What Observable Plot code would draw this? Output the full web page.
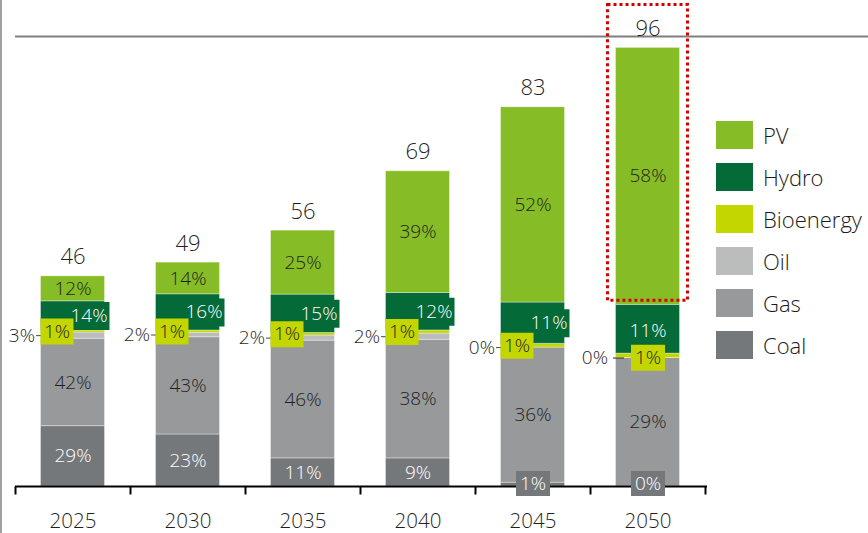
<!DOCTYPE html>
<html>
<head>
<meta charset="utf-8">
<script src="https://cdn.jsdelivr.net/npm/d3@7"></script>
<script src="https://cdn.jsdelivr.net/npm/@observablehq/plot@0.6"></script>
<style>
  html, body { margin: 0; padding: 0; background: #fff; }
  #wrap { position: relative; width: 868px; height: 533px; overflow: hidden; font-family: "Open Sans", sans-serif; }
  #edge { position: absolute; left: 0; top: 0; width: 2px; height: 533px; background: #a0a0a0; }
  #legend { position: absolute; left: 716px; top: 121px; }
  .item { display: flex; align-items: center; height: 28px; margin-bottom: 14px; }
  .sw { width: 37px; height: 28px; margin-right: 10px; flex: none; }
  .lab { font-size: 22px; color: #1a1a1a; white-space: nowrap; }
</style>
</head>
<body>
<div id="wrap"><div id="edge"></div><div id="legend"></div></div>
<script>
// ---- data ----
const years = ["2025", "2030", "2035", "2040", "2045", "2050"];
const totals = [46, 49, 56, 69, 83, 96];
const sources = ["Coal", "Gas", "Oil", "Bioenergy", "Hydro", "PV"];
const coal = [29, 23, 11, 9, 1, 0];
const gas = [42, 43, 46, 38, 36, 29];
const oil = [3, 2, 2, 2, 0, 0];
const bioenergy = [1, 1, 1, 1, 1, 1];
const hydro = [14, 16, 15, 12, 11, 11];
const pv = [12, 14, 25, 39, 52, 58];
const colors = ["#75787b", "#97999b", "#bbbcbc", "#c4d600", "#046a38", "#86bc25"];
const legendOrder = ["PV", "Hydro", "Bioenergy", "Oil", "Gas", "Coal"];
const highlightYear = "2050";

// ---- build stacked rows (shares scaled to each year's total) ----
const shares = [coal, gas, oil, bioenergy, hydro, pv];
const rows = [];
years.forEach((year, i) => {
  const sum = d3.sum(shares, s => s[i]);
  let acc = 0;
  sources.forEach((src, k) => {
    const v = totals[i] * shares[k][i] / sum;
    rows.push({year, source: src, pct: shares[k][i], y1: acc, y2: acc + v, mid: acc + v / 2, total: totals[i]});
    acc += v;
  });
});
const totalRows = years.map((year, i) => ({year, total: totals[i]}));
const bySrc = src => rows.filter(r => r.source === src);
const hi = r => r.year === highlightYear;
const lo = r => r.year !== highlightYear;

// custom symbols (pixel-sized shapes anchored at a data point)
const box = (w, h) => ({draw(ctx) { ctx.rect(-w / 2, -h / 2, w, h); }});
const hline = (a, b) => ({draw(ctx) { ctx.moveTo(a, 0); ctx.lineTo(b, 0); }});
const vline = (a, b) => ({draw(ctx) { ctx.moveTo(0, a); ctx.lineTo(0, b); }});

const yMax = 98.5;
const band = (868 - 15 - 163) / years.length;
const barInset = 25.5;
const ink = "#1f1f1f";
const fs = 19;
const fw = 300;

const chart = Plot.plot({
  width: 868,
  height: 533,
  marginLeft: 15,
  marginRight: 163,
  marginTop: 36,
  marginBottom: 47,
  style: {fontFamily: "'Open Sans', sans-serif", fontSize: "19px", background: "transparent"},
  x: {type: "band", domain: years, padding: 0, axis: null},
  y: {domain: [0, yMax], axis: null},
  color: {domain: sources, range: colors},
  marks: [
    Plot.ruleY([yMax], {stroke: "#7f7f7f", strokeWidth: 2, insetRight: -163}),
    Plot.barY(rows, {x: "year", y1: "y1", y2: "y2", fill: "source", insetLeft: barInset, insetRight: barInset, stroke: "#ffffff", strokeOpacity: 0.35, strokeWidth: 1}),
    // baseline, ticks, year labels
    Plot.ruleY([0], {stroke: "#000", strokeWidth: 2, insetRight: -2}),
    Plot.dot(years, {x: d => d, y: () => 0, symbol: vline(0, 8), stroke: "#000", strokeWidth: 2, fill: "none", dx: -band / 2}),
    Plot.dot(years.slice(-1), {x: d => d, y: () => 0, symbol: vline(0, 8), stroke: "#000", strokeWidth: 2, fill: "none", dx: band / 2}),
    Plot.text(years, {x: d => d, y: () => 0, text: d => d, fill: ink, fontSize: 20.5, fontWeight: fw, dy: 35}),
    // PV labels
    Plot.text(bySrc("PV"), {x: "year", y: "mid", text: d => d.pct + "%", fill: ink, fontSize: fs, fontWeight: fw}),
    // Hydro labels
    Plot.dot(bySrc("Hydro").filter(lo), {x: "year", y: "mid", symbol: box(41, 28), fill: colors[4], stroke: "none", dx: 16}),
    Plot.text(bySrc("Hydro").filter(lo), {x: "year", y: "mid", text: d => d.pct + "%", fill: "#fff", fontSize: fs, fontWeight: fw, dx: 16}),
    Plot.text(bySrc("Hydro").filter(hi), {x: "year", y: "mid", text: d => d.pct + "%", fill: "#fff", fontSize: fs, fontWeight: fw, dy: 2}),
    // Oil labels with leader
    Plot.dot(bySrc("Oil").filter(lo), {x: "year", y: "mid", symbol: hline(-37, -32), stroke: "#444", strokeWidth: 1, fill: "none"}),
    Plot.dot(bySrc("Oil").filter(hi), {x: "year", y: "mid", symbol: hline(-35, -24), stroke: "#444", strokeWidth: 1.2, fill: "none"}),
    Plot.text(bySrc("Oil").filter(lo), {x: "year", y: "mid", text: d => d.pct + "%", fill: ink, fontSize: fs, fontWeight: fw, textAnchor: "end", dx: -38}),
    Plot.text(bySrc("Oil").filter(hi), {x: "year", y: "mid", text: d => d.pct + "%", fill: ink, fontSize: fs, fontWeight: fw, textAnchor: "end", dx: -40}),
    // Bioenergy labels
    Plot.dot(bySrc("Bioenergy").filter(lo), {x: "year", y: "mid", symbol: box(33, 26), fill: colors[3], stroke: "none", dx: -16}),
    Plot.text(bySrc("Bioenergy").filter(lo), {x: "year", y: "mid", text: d => d.pct + "%", fill: ink, fontSize: fs, fontWeight: fw, dx: -16}),
    Plot.dot(bySrc("Bioenergy").filter(hi), {x: "year", y: "mid", symbol: box(34, 26), fill: colors[3], stroke: "none", dy: 2}),
    Plot.text(bySrc("Bioenergy").filter(hi), {x: "year", y: "mid", text: d => d.pct + "%", fill: ink, fontSize: fs, fontWeight: fw, dy: 2}),
    // Gas labels
    Plot.text(bySrc("Gas"), {x: "year", y: "mid", text: d => d.pct + "%", fill: ink, fontSize: fs, fontWeight: fw}),
    // Coal labels
    Plot.text(bySrc("Coal").filter(d => d.pct >= 5), {x: "year", y: "mid", text: d => d.pct + "%", fill: "#fff", fontSize: fs, fontWeight: fw}),
    Plot.dot(bySrc("Coal").filter(d => d.pct < 5), {x: "year", y: () => 0, symbol: box(34, 25), fill: colors[0], stroke: "none", dy: -3}),
    Plot.text(bySrc("Coal").filter(d => d.pct < 5), {x: "year", y: () => 0, text: d => d.pct + "%", fill: "#fff", fontSize: fs, fontWeight: fw, dy: -3}),
    // totals
    Plot.text(totalRows, {x: "year", y: "total", text: d => String(d.total), fill: ink, fontSize: 22, fontWeight: fw, dy: -19}),
    // highlight box
    Plot.barY(bySrc("PV").filter(hi), {x: "year", y1: "y1", y2: "y2", fill: "none", stroke: "#d40000", strokeWidth: 3, strokeDasharray: "3 3", insetLeft: barInset - 8, insetRight: barInset - 8, insetTop: -43, insetBottom: 4})
  ]
});
chart.style.position = "absolute";
chart.style.left = "0px";
chart.style.top = "0px";
document.getElementById("wrap").appendChild(chart);

// legend
const legend = document.getElementById("legend");
legendOrder.forEach(src => {
  const item = document.createElement("div");
  item.className = "item";
  const sw = document.createElement("div");
  sw.className = "sw";
  sw.style.background = colors[sources.indexOf(src)];
  const lab = document.createElement("span");
  lab.className = "lab";
  lab.style.fontWeight = fw;
  lab.textContent = src;
  item.appendChild(sw);
  item.appendChild(lab);
  legend.appendChild(item);
});
document.getElementById("wrap").appendChild(document.getElementById("edge"));
</script>
</body>
</html>
